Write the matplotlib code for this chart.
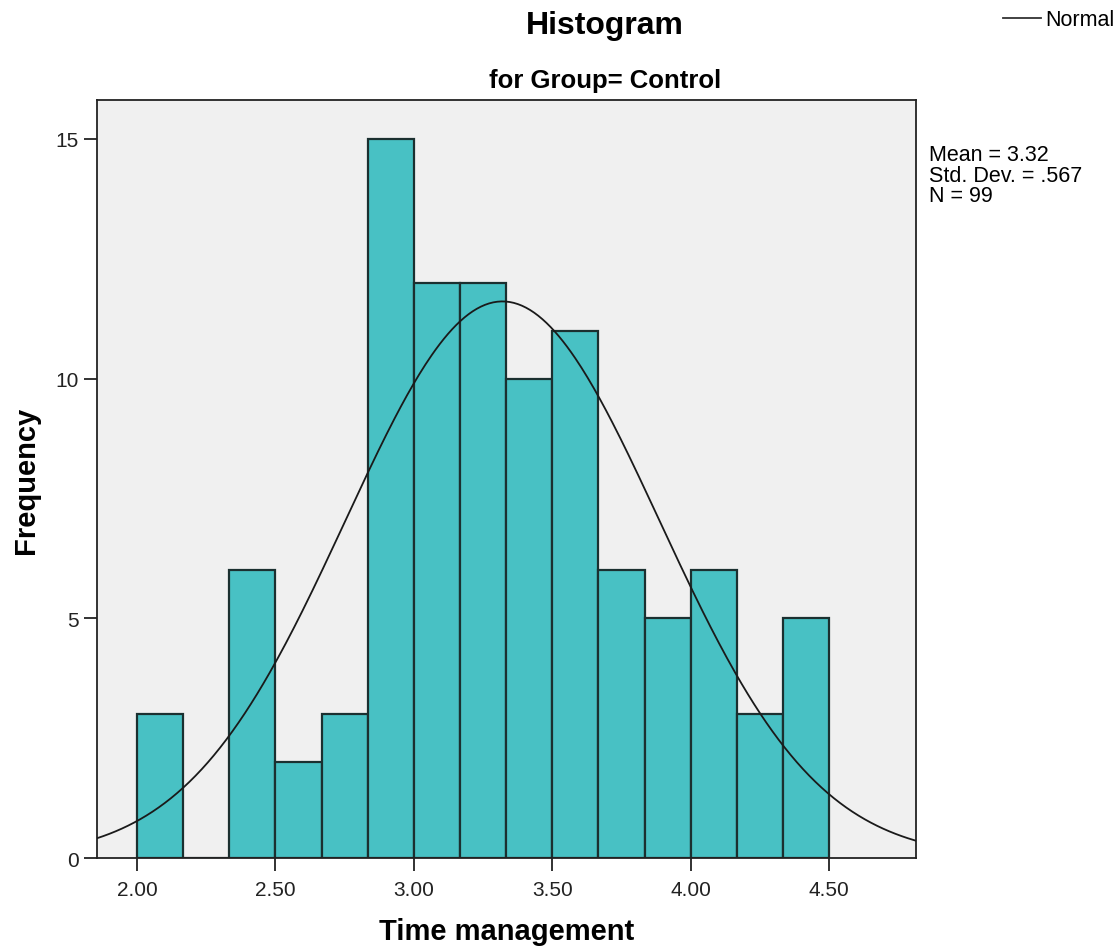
import numpy as np
import matplotlib.pyplot as plt

plt.rcParams['font.family'] = ['Liberation Sans', 'DejaVu Sans']

# Histogram counts (bins of width 1/6 from 2.00 to 4.50)
bin_start = 2.0
bin_end = 4.5
counts = [3, 0, 6, 2, 3, 15, 12, 12, 10, 11, 6, 5, 6, 3, 5]
mean = 3.32
sd = 0.567
n = 99
xticks = [2.00, 2.50, 3.00, 3.50, 4.00, 4.50]
yticks = [0, 5, 10, 15]

edges = np.linspace(bin_start, bin_end, len(counts) + 1)
width = edges[1] - edges[0]

fig = plt.figure(figsize=(11.18, 9.53), dpi=100)
ax = fig.add_axes([0.0868, 0.0986, 0.7325, 0.7954])
ax.set_facecolor('#f0f0f0')

ax.bar(edges[:-1], counts, width=width, align='edge', color='#48c1c4',
       edgecolor='#1b3030', linewidth=1.6, zorder=2)

# fitted normal curve
xmin, xmax = 1.8555, 4.814
xs = np.linspace(xmin, xmax, 400)
ys = n * width * np.exp(-0.5 * ((xs - mean) / sd) ** 2) / (sd * np.sqrt(2 * np.pi))
ax.plot(xs, ys, color='#1a1a1a', linewidth=1.3, zorder=3)

ax.set_xlim(xmin, xmax)
ax.set_ylim(0, 15.81)
ax.set_xticks(xticks)
ax.set_xticklabels([f'{t:.2f}' for t in xticks])
ax.set_yticks(yticks)
ax.tick_params(axis='both', labelsize=15, length=9.5, width=1.3, colors='#222222')
ax.tick_params(axis='x', pad=6)
for s in ax.spines.values():
    s.set_linewidth(1.3)
    s.set_color('#222222')

ax.set_xlabel('Time management', fontsize=21, fontweight='bold', labelpad=13)
ax.set_ylabel('Frequency', fontsize=21, fontweight='bold', labelpad=11)

fig.text(0.541, 0.973, 'Histogram', ha='center', va='center', fontsize=23, fontweight='bold')
fig.text(0.541, 0.915, 'for Group= Control', ha='center', va='center', fontsize=18.5, fontweight='bold')

# legend at top right
fig.lines.append(plt.Line2D([0.897, 0.931], [0.980, 0.980], transform=fig.transFigure,
                            color='#333333', linewidth=1.3))
fig.text(0.935, 0.979, 'Normal', ha='left', va='center', fontsize=15.5)

fig.text(0.831, 0.848, 'Mean = 3.32\nStd. Dev. = .567\nN = 99', ha='left', va='top',
         fontsize=15.5, linespacing=0.98)

fig.savefig('out.png', dpi=100)
